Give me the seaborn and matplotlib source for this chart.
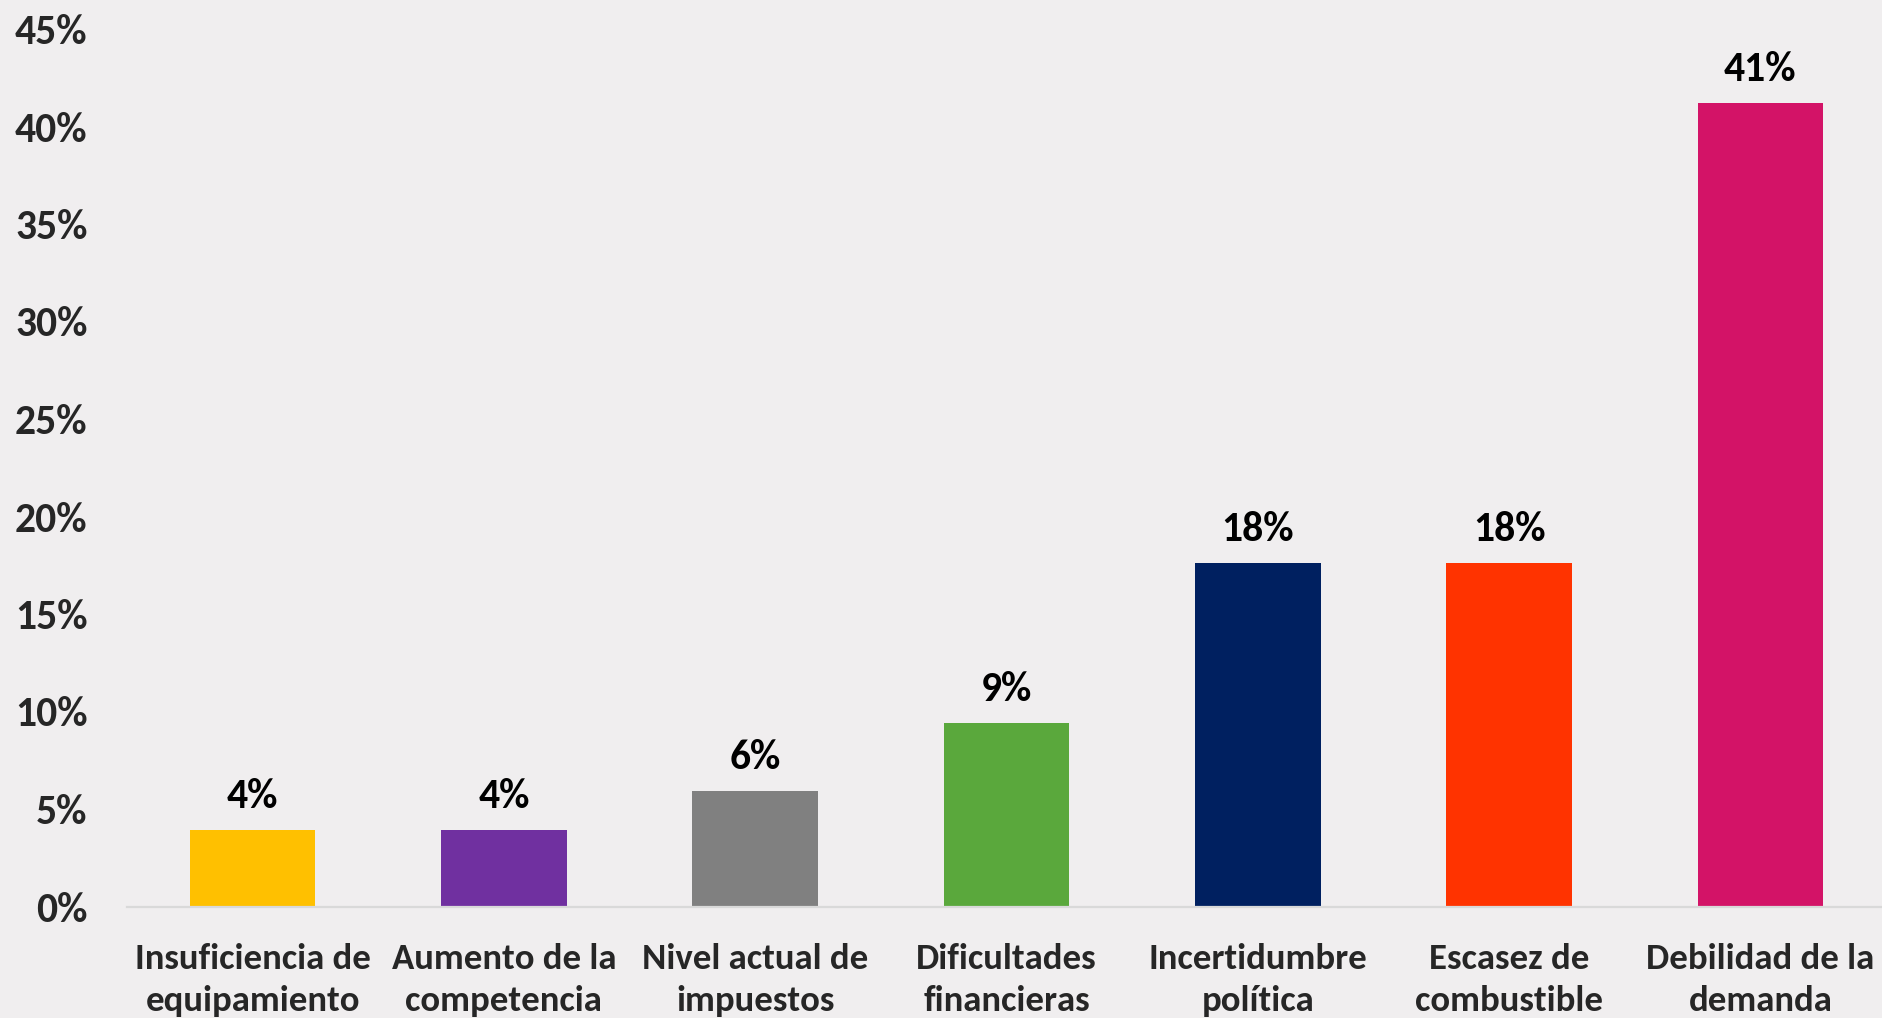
import matplotlib
matplotlib.use("Agg")
import matplotlib.pyplot as plt
import seaborn as sns
import pandas as pd

# Main obstacles reported (share of responses, %)
categories = [
    "Insuficiencia de\nequipamiento",
    "Aumento de la\ncompetencia",
    "Nivel actual de\nimpuestos",
    "Dificultades\nfinancieras",
    "Incertidumbre\npolítica",
    "Escasez de\ncombustible",
    "Debilidad de la\ndemanda",
]
values = [3.9, 3.9, 5.9, 9.4, 17.6, 17.6, 41.2]
bar_colors = ["#FFC000", "#7030A0", "#808080", "#5AA83C", "#002060", "#FF3300", "#D31367"]
y_ticks = [0, 5, 10, 15, 20, 25, 30, 35, 40, 45]

sns.set_style("white")
plt.rcParams["font.family"] = ["Carlito", "DejaVu Sans"]
plt.rcParams["font.weight"] = "bold"

BG = "#F0EEEF"
W, H = 1882, 1018
fig = plt.figure(figsize=(W / 100, H / 100), dpi=100, facecolor=BG)
ax = fig.add_axes([127 / W, (H - 906.5) / H, 1759 / W, (906.5 - 29) / H])
ax.set_facecolor(BG)

df = pd.DataFrame({"cat": categories, "val": values})
sns.barplot(data=df, x="cat", y="val", hue="cat", palette=bar_colors,
            width=0.5, saturation=1, legend=False, linewidth=0, ax=ax)

ax.set_xlim(-0.5, len(categories) - 0.5)
ax.set_ylim(0, 45)
ax.set_yticks(y_ticks)
ax.set_yticklabels([f"{t}%" for t in y_ticks], fontsize=30, fontweight="bold")
ax.tick_params(axis="y", length=0, pad=28.5)
ax.tick_params(axis="x", length=0, pad=26, labelsize=26.5)
for lbl in ax.get_xticklabels():
    lbl.set_fontweight("bold")
    lbl.set_linespacing(1.4)
ax.set_xlabel("")
ax.set_ylabel("")
ax.grid(False)

for side in ["left", "right", "top"]:
    ax.spines[side].set_visible(False)
ax.spines["bottom"].set_color("#D9D9D9")
ax.spines["bottom"].set_linewidth(1.6)

# Value labels above each bar
for i, v in enumerate(values):
    ax.annotate(f"{v:.0f}%", xy=(i, v), xytext=(0, 16), textcoords="offset points",
                ha="center", va="baseline", fontsize=30, fontweight="bold", color="black")

fig.savefig("out.png", dpi=100, facecolor=BG)
